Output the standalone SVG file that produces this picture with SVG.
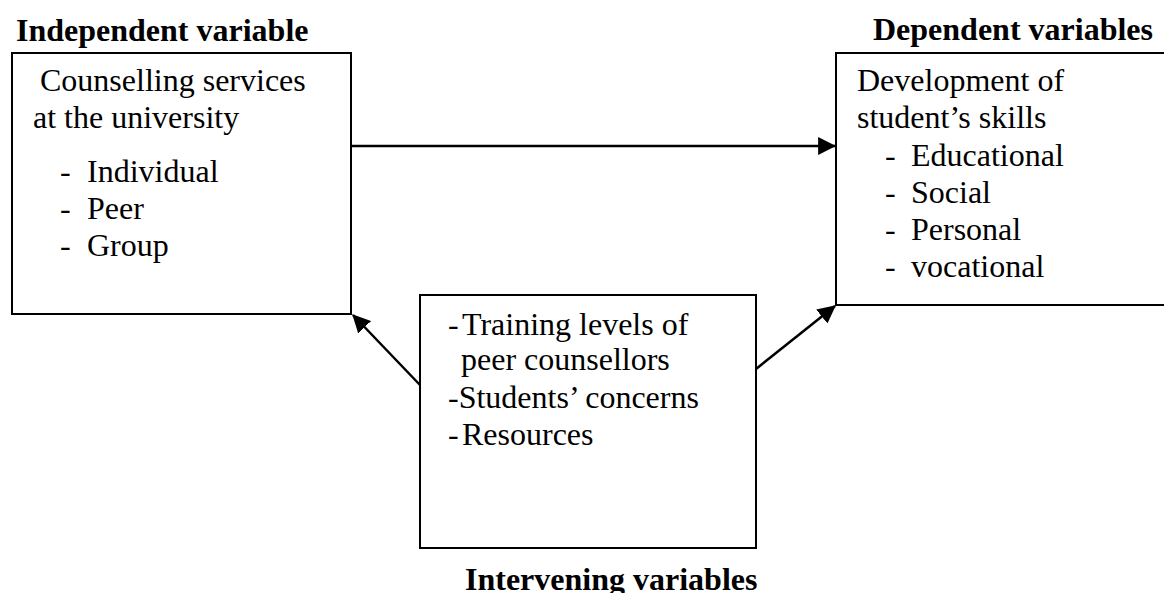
<svg xmlns="http://www.w3.org/2000/svg" width="1164" height="593" viewBox="0 0 1164 593">
  <style>
    .box { fill: #fff; stroke: #000; stroke-width: 2; }
    .txt { font-family: "Liberation Serif", "Times New Roman", serif; font-size: 32px; fill: #000; }
    .head { font-family: "Liberation Serif", "Times New Roman", serif; font-size: 32px; font-weight: bold; fill: #000; }
    .link { stroke: #000; stroke-width: 2.5; fill: none; marker-end: url(#arrow); }
  </style>
  <defs>
    <marker id="arrow" markerUnits="userSpaceOnUse" markerWidth="18" markerHeight="18" viewBox="0 0 16 16" refX="15" refY="8" orient="auto">
      <path d="M0,0 L16,8 L0,16 z" fill="#000"/>
    </marker>
  </defs>
  <rect width="1164" height="593" fill="#fff"/>

  <!-- section headings -->
  <text class="head" x="16" y="41">Independent variable</text>
  <text class="head" x="873" y="40">Dependent variables</text>
  <text class="head" x="465" y="590">Intervening variables</text>

  <!-- independent variable -->
  <g id="independent">
    <rect class="box" x="12" y="53" width="339" height="261"/>
    <text class="txt" x="40" y="91">Counselling services</text>
    <text class="txt" x="33" y="128">at the university</text>
    <text class="txt" x="60" y="182">-</text><text class="txt" x="87" y="182">Individual</text>
    <text class="txt" x="60" y="219">-</text><text class="txt" x="87" y="219">Peer</text>
    <text class="txt" x="60" y="256">-</text><text class="txt" x="87" y="256">Group</text>
  </g>

  <!-- dependent variables -->
  <g id="dependent">
    <rect class="box" x="836" y="53" width="340" height="252"/>
    <text class="txt" x="857" y="91">Development of</text>
    <text class="txt" x="857" y="128">student’s skills</text>
    <text class="txt" x="885" y="166">-</text><text class="txt" x="911" y="166">Educational</text>
    <text class="txt" x="885" y="203">-</text><text class="txt" x="911" y="203">Social</text>
    <text class="txt" x="885" y="240">-</text><text class="txt" x="911" y="240">Personal</text>
    <text class="txt" x="885" y="277">-</text><text class="txt" x="911" y="277">vocational</text>
  </g>

  <!-- intervening variables -->
  <g id="intervening">
    <rect class="box" x="420" y="295" width="336" height="253"/>
    <text class="txt" x="448" y="335">-</text><text class="txt" x="462" y="335">Training levels  of</text>
    <text class="txt" x="461" y="370">peer counsellors</text>
    <text class="txt" x="448" y="408">-Students’ concerns</text>
    <text class="txt" x="448" y="445">-</text><text class="txt" x="462" y="445">Resources</text>
  </g>

  <!-- connectors -->
  <g id="connectors">
    <line class="link" x1="352" y1="146" x2="835" y2="146"/>
    <line class="link" x1="420" y1="385" x2="353" y2="315"/>
    <line class="link" x1="756" y1="369" x2="835" y2="306"/>
  </g>
</svg>
